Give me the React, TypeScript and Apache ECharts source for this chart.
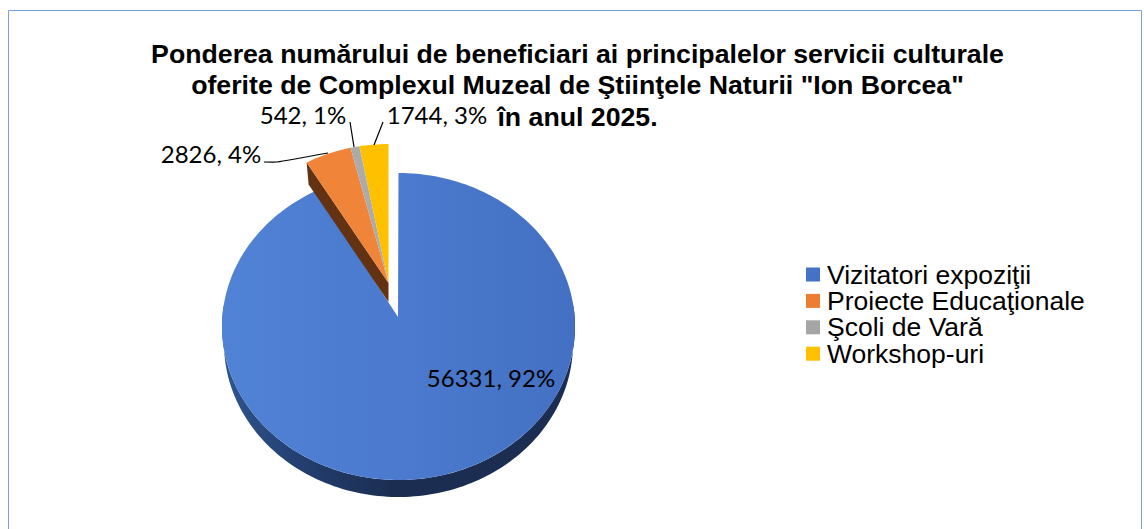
import React, { useEffect, useRef } from "react";
import * as echarts from "echarts";

const categories = ["Vizitatori expoziţii", "Proiecte Educaţionale", "Şcoli de Vară", "Workshop-uri"];
const values = [56331, 2826, 542, 1744];
const percents = [92, 4, 1, 3];
const legendColors = ["#4472C4", "#ED7D31", "#A5A5A5", "#FFC000"];
const faceColors = ["#4A78CC", "#F08439", "#ABABAB", "#FFC000"];
const titleText =
  'Ponderea numărului de beneficiari ai principalelor servicii culturale\noferite de Complexul Muzeal de Ştiinţele Naturii "Ion Borcea"\nîn anul 2025.';

const total = values.reduce((a, b) => a + b, 0);
const rad = (d: number) => (d * Math.PI) / 180;

// Geometry of the tilted pie
const BLUE = { apexX: 398, apexY: 317, cx: 398.5, cy: 326.5, rx: 176.5, ry: 153.5 };
const EXP = { apexX: 388.5, apexY: 283, rx: 164, ry: 139 };
const RIM_DY = 17;

const labelPos = [
  { x: 491, y: 377 },
  { x: 211, y: 153 },
  { x: 303, y: 114 },
  { x: 437, y: 114 },
];
const leaders: (number[][] | null)[] = [
  null,
  [[264, 162], [277, 162], [328, 153]],
  [[350, 122], [354, 147]],
  [[383, 122], [374, 145]],
];

function angles(i: number) {
  let s = 0;
  for (let k = 0; k < i; k++) s += values[k];
  return [(s / total) * 360, ((s + values[i]) / total) * 360];
}

function arc(a0: number, a1: number, f: (t: number) => number[]) {
  const n = Math.max(2, Math.ceil(Math.abs(a1 - a0) / 1.5));
  const out: number[][] = [];
  for (let j = 0; j <= n; j++) out.push(f(a0 + ((a1 - a0) * j) / n));
  return out;
}

const lg = (stops: [number, string][]) =>
  new echarts.graphic.LinearGradient(0, 0, 1, 0, stops.map(([offset, color]) => ({ offset, color })));

function renderSlice(i: number) {
  return (_params: any, api: any) => {
    const v = api.value(0);
    const [a0, a1] = angles(i);
    const children: any[] = [];
    if (i === 0) {
      const rimF = (t: number) => [
        BLUE.cx + (BLUE.rx - 2) * Math.sin(rad(t)),
        BLUE.cy + RIM_DY + BLUE.ry * -Math.cos(rad(t)),
      ];
      const faceF = (t: number) => [
        BLUE.cx + BLUE.rx * Math.sin(rad(t)),
        BLUE.cy - BLUE.ry * Math.cos(rad(t)),
      ];
      children.push({
        type: "polygon",
        shape: { points: [...arc(82, 278, rimF), ...arc(278, 82, faceF)] },
        style: { fill: lg([[0, "#2F5590"], [0.25, "#223C6C"], [0.5, "#1B2D50"], [1, "#1B2D52"]]) },
      });
      // the 3D projection tilts the cut edge by about 2 degrees
      children.push({
        type: "polygon",
        shape: { points: [[BLUE.apexX, BLUE.apexY], ...arc(a0, a1 + 2, faceF)] },
        style: { fill: lg([[0, "#5082D5"], [0.5, "#4B7ACE"], [1, "#4370C2"]]) },
      });
    } else {
      const f = (t: number) => [
        EXP.apexX + EXP.rx * Math.sin(rad(t)),
        EXP.apexY - EXP.ry * Math.cos(rad(t)),
      ];
      if (i === 1) {
        const far = f(a0);
        children.push({
          type: "polygon",
          shape: {
            points: [
              [EXP.apexX, EXP.apexY],
              far,
              [far[0] + 2, far[1] + 22],
              [EXP.apexX, EXP.apexY + 19],
            ],
          },
          style: { fill: "#623213" },
        });
      }
      children.push({
        type: "polygon",
        shape: { points: [[EXP.apexX, EXP.apexY], ...arc(a0, a1, f)] },
        style: { fill: faceColors[i] },
      });
    }
    const leader = leaders[i];
    if (leader) {
      children.push({
        type: "polyline",
        shape: { points: leader, smooth: i === 1 ? 0.15 : 0 },
        style: { stroke: "#000", lineWidth: 1.2, fill: "none" },
        z2: 20,
      });
    }
    children.push({
      type: "text",
      x: labelPos[i].x,
      y: labelPos[i].y,
      z2: 30,
      style: {
        text: `${v}, ${percents[i]}%`,
        fill: "#000",
        font: '24px Lato, "Open Sans", sans-serif',
        align: "center",
        verticalAlign: "middle",
      },
    });
    return { type: "group", children };
  };
}

export default function App() {
  const ref = useRef<HTMLDivElement>(null);
  useEffect(() => {
    const chart = echarts.init(ref.current!, null, { renderer: "svg" });
    chart.setOption({
      animation: false,
      backgroundColor: "#fff",
      title: {
        text: titleText,
        left: 572.5,
        top: 33,
        textAlign: "center",
        textStyle: {
          fontFamily: '"Liberation Sans", Arial, sans-serif',
          fontWeight: "bold",
          fontSize: 26.7,
          lineHeight: 31.5,
          color: "#000",
        },
      },
      legend: {
        orient: "vertical",
        left: 806,
        top: 261,
        padding: 0,
        itemGap: -0.6,
        itemWidth: 14,
        itemHeight: 14,
        icon: "rect",
        selectedMode: false,
        data: categories,
        textStyle: {
          fontFamily: '"Liberation Sans", Arial, sans-serif',
          fontSize: 26.5,
          lineHeight: 26.4,
          color: "#000",
          padding: [0, 0, 0, 2],
        },
      },
      graphic: [
        {
          type: "polyline",
          silent: true,
          shape: { points: [[8.5, 529], [8.5, 10.5], [1141.5, 10.5], [1141.5, 529]] },
          style: { stroke: "#7A9FE0", lineWidth: 1, fill: "none" },
        },
      ],
      series: categories.map((name, i) => ({
        type: "custom",
        name,
        coordinateSystem: "none",
        silent: true,
        itemStyle: { color: legendColors[i] },
        data: [[values[i]]],
        renderItem: renderSlice(i),
      })),
    });
    return () => chart.dispose();
  }, []);
  return <div ref={ref} style={{ position: "absolute", left: 0, top: 0, width: 1144, height: 529 }} />;
}
